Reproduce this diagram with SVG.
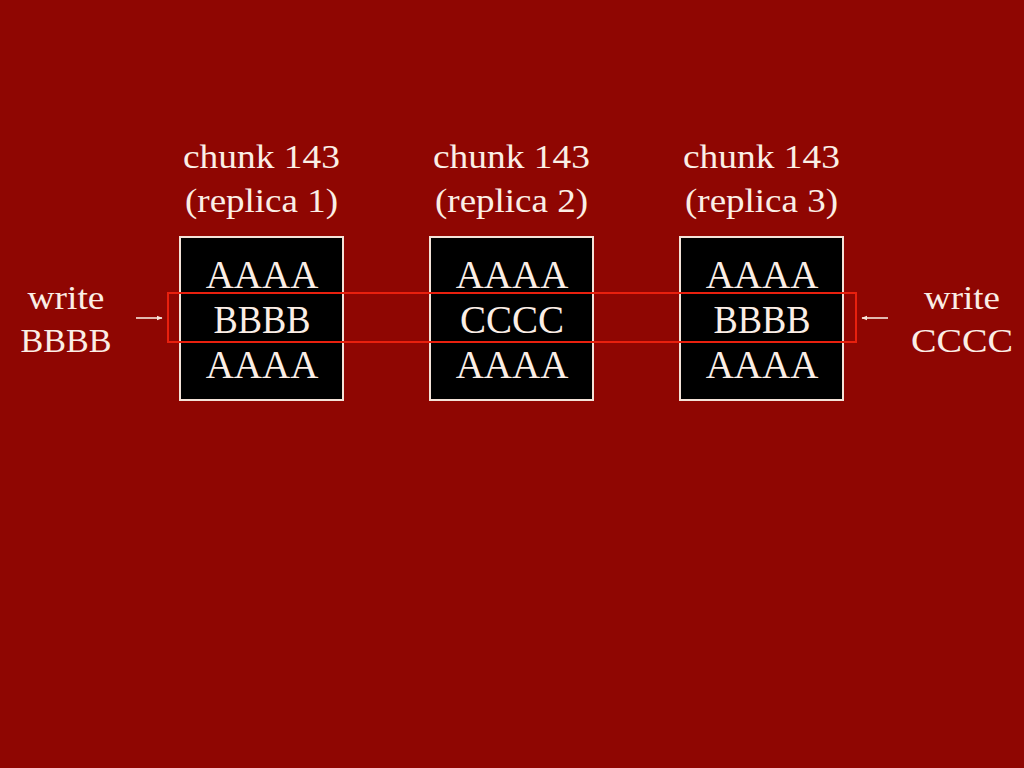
<svg xmlns="http://www.w3.org/2000/svg" width="1024" height="768" viewBox="0 0 1024 768">
<defs>
<style>
.t{font-family:"Liberation Serif","Times New Roman",serif;fill:#fbeee6;}
.h{font-size:33px;}
.c{font-size:39px;text-anchor:middle;}
.w{font-size:33px;text-anchor:middle;}
.box{fill:#000;stroke:#f3e2d8;stroke-width:2;}
.arr{stroke:#f7e6dc;stroke-width:1.6;fill:none;}
</style>
<marker id="ah" viewBox="0 0 10 10" refX="9" refY="5" markerWidth="6" markerHeight="6" orient="auto" markerUnits="userSpaceOnUse">
<path d="M0,1 L10,5 L0,9 Z" fill="#f7e6dc"/>
</marker>
</defs>
<rect width="1024" height="768" fill="#8f0602"/>
<g id="replica1">
<text class="t h" x="183" y="168" textLength="157" lengthAdjust="spacingAndGlyphs">chunk 143</text>
<text class="t h" x="185" y="212" textLength="153" lengthAdjust="spacingAndGlyphs">(replica 1)</text>
<rect class="box" x="180" y="237" width="163" height="163"/>
<text class="t c" x="262" y="288">AAAA</text>
<text class="t c" x="262" y="333" textLength="97" lengthAdjust="spacingAndGlyphs">BBBB</text>
<text class="t c" x="262" y="378">AAAA</text>
</g>
<g id="replica2">
<text class="t h" x="433" y="168" textLength="157" lengthAdjust="spacingAndGlyphs">chunk 143</text>
<text class="t h" x="435" y="212" textLength="153" lengthAdjust="spacingAndGlyphs">(replica 2)</text>
<rect class="box" x="430" y="237" width="163" height="163"/>
<text class="t c" x="512" y="288">AAAA</text>
<text class="t c" x="512" y="333">CCCC</text>
<text class="t c" x="512" y="378">AAAA</text>
</g>
<g id="replica3">
<text class="t h" x="683" y="168" textLength="157" lengthAdjust="spacingAndGlyphs">chunk 143</text>
<text class="t h" x="685" y="212" textLength="153" lengthAdjust="spacingAndGlyphs">(replica 3)</text>
<rect class="box" x="680" y="237" width="163" height="163"/>
<text class="t c" x="762" y="288">AAAA</text>
<text class="t c" x="762" y="333" textLength="97" lengthAdjust="spacingAndGlyphs">BBBB</text>
<text class="t c" x="762" y="378">AAAA</text>
</g>
<g id="writeB">
<text class="t w" x="66" y="309" textLength="77" lengthAdjust="spacingAndGlyphs">write</text>
<text class="t w" x="66" y="352" textLength="91" lengthAdjust="spacingAndGlyphs">BBBB</text>
</g>
<g id="writeC">
<text class="t w" x="962" y="309" textLength="76" lengthAdjust="spacingAndGlyphs">write</text>
<text class="t w" x="962" y="352" textLength="102" lengthAdjust="spacingAndGlyphs">CCCC</text>
</g>
<g id="highlight">
<rect x="168" y="293" width="688" height="49" fill="none" stroke="#e8200e" stroke-width="2"/>
</g>
<g id="connectors">
<line class="arr" x1="136" y1="318" x2="162" y2="318" marker-end="url(#ah)"/>
<line class="arr" x1="888" y1="318" x2="862" y2="318" marker-end="url(#ah)"/>
</g>
</svg>
